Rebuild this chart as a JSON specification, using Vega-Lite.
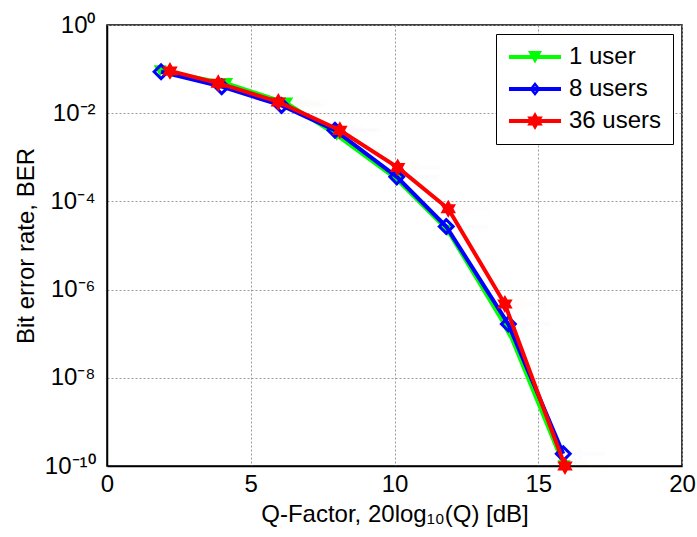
{
  "$schema": "https://vega.github.io/schema/vega-lite/v6.json",
  "width": 575,
  "height": 441,
  "autosize": "none",
  "padding": {"left": 107, "top": 25, "right": 15, "bottom": 71},
  "background": "white",
  "config": {
    "font": "Liberation Sans",
    "view": {"stroke": "black", "strokeWidth": 1.5},
    "axis": {
      "labelFont": "Liberation Sans",
      "labelFontSize": 24,
      "labelColor": "black",
      "titleFont": "Liberation Sans",
      "titleFontSize": 24,
      "titleFontWeight": "normal",
      "titleColor": "black",
      "domainColor": "black",
      "domainWidth": 1.5,
      "ticks": false,
      "gridColor": "#9a9a9a",
      "gridDash": [2, 2],
      "gridWidth": 1
    },
    "legend": {
      "labelFont": "Liberation Sans",
      "labelFontSize": 24,
      "labelColor": "black",
      "strokeColor": "black",
      "fillColor": "white",
      "padding": 11,
      "rowPadding": 8,
      "cornerRadius": 0,
      "labelLimit": 300
    }
  },
  "data": {
    "values": [
      {"series": "1 user", "q": 1.85, "ber": 0.091},
      {"series": "1 user", "q": 4.16, "ber": 0.047},
      {"series": "1 user", "q": 6.25, "ber": 0.017},
      {"series": "1 user", "q": 7.99, "ber": 0.0032},
      {"series": "1 user", "q": 10.1, "ber": 0.00031},
      {"series": "1 user", "q": 11.85, "ber": 0.000022},
      {"series": "1 user", "q": 14.0, "ber": 1.05e-7},
      {"series": "1 user", "q": 15.9, "ber": 1.0e-10},
      {"series": "8 users", "q": 1.88, "ber": 0.087},
      {"series": "8 users", "q": 3.99, "ber": 0.040},
      {"series": "8 users", "q": 6.07, "ber": 0.015},
      {"series": "8 users", "q": 7.93, "ber": 0.0041},
      {"series": "8 users", "q": 10.08, "ber": 0.00036},
      {"series": "8 users", "q": 11.8, "ber": 0.000027},
      {"series": "8 users", "q": 13.96, "ber": 1.65e-7},
      {"series": "8 users", "q": 15.87, "ber": 1.9e-10},
      {"series": "36 users", "q": 2.19, "ber": 0.091},
      {"series": "36 users", "q": 3.87, "ber": 0.048},
      {"series": "36 users", "q": 5.96, "ber": 0.018},
      {"series": "36 users", "q": 8.1, "ber": 0.0041},
      {"series": "36 users", "q": 10.11, "ber": 0.00059},
      {"series": "36 users", "q": 11.87, "ber": 0.000068},
      {"series": "36 users", "q": 13.84, "ber": 4.7e-7},
      {"series": "36 users", "q": 15.93, "ber": 1.0e-10}
    ]
  },
  "layer": [
    {
      "transform": [{"filter": "datum.series == '1 user'"}],
      "layer": [
        {
          "mark": {"type": "line", "strokeWidth": 4, "color": "#00ff00"},
          "encoding": {
            "x": {"field": "q", "type": "quantitative", "scale": {"domain": [0, 20], "nice": false, "zero": false},
              "axis": {"values": [0, 5, 10, 15, 20], "title": "Q-Factor, 20log₁₀(Q) [dB]", "labelPadding": 6, "titlePadding": 6, "labelFlush": false}},
            "y": {"field": "ber", "type": "quantitative", "scale": {"type": "log", "domain": [1e-10, 1], "nice": false},
              "axis": {"values": [1e-10, 1e-8, 1e-6, 1e-4, 1e-2, 1], "title": "Bit error rate, BER", "labelPadding": 12, "titlePadding": 6, "labelFlush": false,
                "labelExpr": "round(log(datum.value)/LN10) == 0 ? '10⁰' : round(log(datum.value)/LN10) == -2 ? '10⁻²' : round(log(datum.value)/LN10) == -4 ? '10⁻⁴' : round(log(datum.value)/LN10) == -6 ? '10⁻⁶' : round(log(datum.value)/LN10) == -8 ? '10⁻⁸' : '10⁻¹⁰'"}}
          }
        },
        {
          "mark": {"type": "point", "shape": "triangle-down", "filled": true, "opacity": 1, "size": 170, "color": "#00ff00"},
          "encoding": {"x": {"field": "q", "type": "quantitative"}, "y": {"field": "ber", "type": "quantitative"}}
        }
      ]
    },
    {
      "transform": [{"filter": "datum.series == '8 users'"}],
      "layer": [
        {
          "mark": {"type": "line", "strokeWidth": 4, "color": "#0000ff"},
          "encoding": {"x": {"field": "q", "type": "quantitative"}, "y": {"field": "ber", "type": "quantitative"}}
        },
        {
          "mark": {"type": "point", "shape": "diamond", "filled": false, "opacity": 1, "size": 190, "strokeWidth": 3, "color": "#0000ff"},
          "encoding": {"x": {"field": "q", "type": "quantitative"}, "y": {"field": "ber", "type": "quantitative"}}
        }
      ]
    },
    {
      "transform": [{"filter": "datum.series == '36 users'"}],
      "layer": [
        {
          "mark": {"type": "line", "strokeWidth": 4, "color": "#ff0000"},
          "encoding": {"x": {"field": "q", "type": "quantitative"}, "y": {"field": "ber", "type": "quantitative"}}
        },
        {
          "mark": {"type": "point", "shape": "M0,-1L0.289,-0.5L0.866,-0.5L0.577,0L0.866,0.5L0.289,0.5L0,1L-0.289,0.5L-0.866,0.5L-0.577,0L-0.866,-0.5L-0.289,-0.5Z", "filled": true, "opacity": 1, "size": 320, "color": "#ff0000"},
          "encoding": {"x": {"field": "q", "type": "quantitative"}, "y": {"field": "ber", "type": "quantitative"}}
        }
      ]
    },
    {
      "mark": {"type": "point", "filled": true, "opacity": 0.01, "size": 400},
      "encoding": {
        "x": {"field": "q", "type": "quantitative"},
        "y": {"field": "ber", "type": "quantitative"},
        "shape": {
          "field": "series",
          "type": "nominal",
          "scale": {
            "domain": ["1 user", "8 users", "36 users"],
            "range": [
              "M-1,-0.2H4.2V0.2H-1Z M0.9,-0.6L2.3,-0.6L1.6,0.65Z",
              "M-1,-0.2H4.2V0.2H-1Z M1.6,-0.7L2.15,0L1.6,0.7L1.05,0Z M1.6,-0.3L1.38,0L1.6,0.3L1.82,0Z",
              "M-1,-0.2H4.2V0.2H-1Z M1.6,-0.9L1.86,-0.45L2.379,-0.45L2.12,0L2.379,0.45L1.86,0.45L1.6,0.9L1.34,0.45L0.821,0.45L1.08,0L0.821,-0.45L1.34,-0.45Z"
            ]
          },
          "legend": {
            "title": null,
            "orient": "top-right",
            "offset": 9,
            "symbolSize": 400,
            "symbolOpacity": 1,
            "labelOffset": 38
          }
        },
        "color": {
          "field": "series",
          "type": "nominal",
          "scale": {"domain": ["1 user", "8 users", "36 users"], "range": ["#00ff00", "#0000ff", "#ff0000"]},
          "legend": {
            "title": null,
            "orient": "top-right",
            "offset": 9,
            "symbolSize": 400,
            "symbolOpacity": 1,
            "labelOffset": 38
          }
        }
      }
    }
  ]
}
